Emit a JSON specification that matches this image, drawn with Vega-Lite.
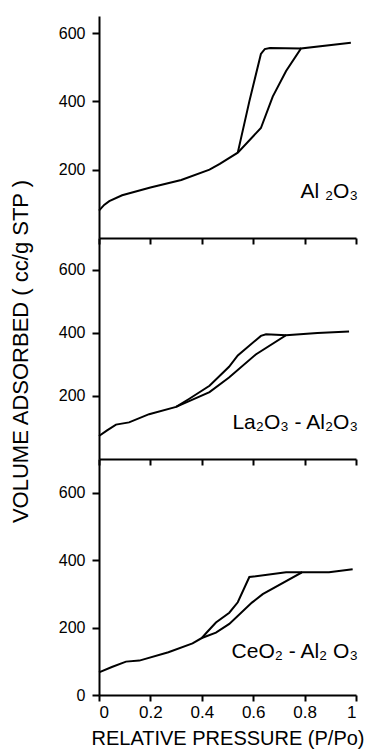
{
  "$schema": "https://vega.github.io/schema/vega-lite/v6.json",
  "background": "white",
  "padding": {"left": 9, "top": 16, "right": 10, "bottom": 5},
  "bounds": "flush",
  "spacing": 0,
  "config": {
    "view": {"stroke": null},
    "font": "Liberation Sans",
    "axis": {
      "domainColor": "black", "domainWidth": 2, "tickColor": "black", "tickWidth": 2,
      "labelColor": "black", "labelFontSize": 16, "labelFont": "Liberation Sans",
      "titleColor": "black", "titleFontWeight": "normal", "titleFont": "Liberation Sans", "titleFontSize": 20,
      "grid": false
    },
    "line": {"color": "black", "strokeWidth": 2}
  },
  "datasets": {
    "al": [
      {"p": 0, "v": 80, "b": "ads"}, {"p": 0.02, "v": 97, "b": "ads"}, {"p": 0.04, "v": 108, "b": "ads"},
      {"p": 0.09, "v": 125, "b": "ads"}, {"p": 0.2, "v": 148, "b": "ads"}, {"p": 0.32, "v": 170, "b": "ads"},
      {"p": 0.43, "v": 200, "b": "ads"}, {"p": 0.47, "v": 217, "b": "ads"}, {"p": 0.54, "v": 250, "b": "ads"},
      {"p": 0.63, "v": 322, "b": "ads"}, {"p": 0.676, "v": 414, "b": "ads"}, {"p": 0.728, "v": 489, "b": "ads"},
      {"p": 0.786, "v": 555, "b": "ads"}, {"p": 0.98, "v": 572, "b": "ads"},
      {"p": 0.54, "v": 250, "b": "des"}, {"p": 0.585, "v": 400, "b": "des"}, {"p": 0.63, "v": 539, "b": "des"},
      {"p": 0.645, "v": 553, "b": "des"}, {"p": 0.665, "v": 556, "b": "des"}, {"p": 0.786, "v": 555, "b": "des"}
    ],
    "la": [
      {"p": 0, "v": 73, "b": "ads"}, {"p": 0.03, "v": 90, "b": "ads"}, {"p": 0.066, "v": 109, "b": "ads"},
      {"p": 0.117, "v": 116, "b": "ads"}, {"p": 0.195, "v": 142, "b": "ads"}, {"p": 0.3, "v": 165, "b": "ads"},
      {"p": 0.43, "v": 212, "b": "ads"}, {"p": 0.506, "v": 258, "b": "ads"}, {"p": 0.61, "v": 331, "b": "ads"},
      {"p": 0.728, "v": 392, "b": "ads"}, {"p": 0.85, "v": 399, "b": "ads"}, {"p": 0.973, "v": 404, "b": "ads"},
      {"p": 0.3, "v": 165, "b": "des"}, {"p": 0.35, "v": 190, "b": "des"}, {"p": 0.43, "v": 232, "b": "des"},
      {"p": 0.506, "v": 292, "b": "des"}, {"p": 0.54, "v": 328, "b": "des"}, {"p": 0.63, "v": 390, "b": "des"},
      {"p": 0.65, "v": 395, "b": "des"}, {"p": 0.728, "v": 392, "b": "des"}
    ],
    "ce": [
      {"p": 0, "v": 67, "b": "ads"}, {"p": 0.05, "v": 83, "b": "ads"}, {"p": 0.105, "v": 99, "b": "ads"},
      {"p": 0.157, "v": 102, "b": "ads"}, {"p": 0.27, "v": 127, "b": "ads"}, {"p": 0.364, "v": 153, "b": "ads"},
      {"p": 0.4, "v": 169, "b": "ads"}, {"p": 0.455, "v": 185, "b": "ads"}, {"p": 0.507, "v": 211, "b": "ads"},
      {"p": 0.595, "v": 274, "b": "ads"}, {"p": 0.637, "v": 299, "b": "ads"}, {"p": 0.79, "v": 364, "b": "ads"},
      {"p": 0.895, "v": 364, "b": "ads"}, {"p": 0.987, "v": 373, "b": "ads"},
      {"p": 0.4, "v": 169, "b": "des"}, {"p": 0.42, "v": 186, "b": "des"}, {"p": 0.455, "v": 215, "b": "des"},
      {"p": 0.507, "v": 244, "b": "des"}, {"p": 0.54, "v": 275, "b": "des"}, {"p": 0.585, "v": 350, "b": "des"},
      {"p": 0.728, "v": 364, "b": "des"}, {"p": 0.79, "v": 364, "b": "des"}
    ],
    "labels": [
      {"panel": "al", "p": 1, "v": 136, "t": "Al ₂O₃"},
      {"panel": "la", "p": 1, "v": 113, "t": "La₂O₃ -  Al₂O₃"},
      {"panel": "ce", "p": 1, "v": 128, "t": "CeO₂ - Al₂ O₃"}
    ]
  },
  "vconcat": [
    {
      "width": 257, "height": 222,
      "layer": [
        {
          "data": {"name": "al"},
          "mark": {"type": "line"},
          "encoding": {
            "x": {"field": "p", "type": "quantitative", "scale": {"domain": [0, 1]},
                  "axis": {"values": [0, 0.2, 0.4, 0.6, 0.8, 1], "labels": false, "title": null, "tickSize": 6}},
            "y": {"field": "v", "type": "quantitative", "scale": {"domain": [0, 617]},
                  "axis": {"values": [200, 400, 600], "title": null, "tickSize": 7, "labelPadding": 7}},
            "detail": {"field": "b"}
          }
        },
        {
          "data": {"name": "labels"},
          "transform": [{"filter": "datum.panel == 'al'"}],
          "mark": {"type": "text", "align": "right", "baseline": "middle", "fontSize": 21, "font": "Liberation Sans", "color": "black", "dx": 2},
          "encoding": {
            "x": {"field": "p", "type": "quantitative"},
            "y": {"field": "v", "type": "quantitative"},
            "text": {"field": "t"}
          }
        }
      ]
    },
    {
      "width": 257, "height": 221,
      "layer": [
        {
          "data": {"name": "la"},
          "mark": {"type": "line"},
          "encoding": {
            "x": {"field": "p", "type": "quantitative", "scale": {"domain": [0, 1]},
                  "axis": {"values": [0, 0.2, 0.4, 0.6, 0.8, 1], "labels": false, "title": null, "tickSize": 6}},
            "y": {"field": "v", "type": "quantitative", "scale": {"domain": [0, 670]},
                  "axis": {"values": [200, 400, 600], "title": "VOLUME ADSORBED ( cc/g STP )", "titleFontSize": 22, "tickSize": 7, "labelPadding": 7, "titlePadding": 26, "titleY": 113}},
            "detail": {"field": "b"}
          }
        },
        {
          "data": {"name": "labels"},
          "transform": [{"filter": "datum.panel == 'la'"}],
          "mark": {"type": "text", "align": "right", "baseline": "middle", "fontSize": 21, "font": "Liberation Sans", "color": "black", "dx": 2},
          "encoding": {
            "x": {"field": "p", "type": "quantitative"},
            "y": {"field": "v", "type": "quantitative"},
            "text": {"field": "t"}
          }
        }
      ]
    },
    {
      "width": 257, "height": 236,
      "layer": [
        {
          "data": {"name": "ce"},
          "mark": {"type": "line"},
          "encoding": {
            "x": {"field": "p", "type": "quantitative", "scale": {"domain": [0, 1]},
                  "axis": {"values": [0, 0.2, 0.4, 0.6, 0.8, 1], "format": "~g", "labelFontSize": 17, "title": "RELATIVE PRESSURE (P/Po)", "tickSize": 6, "labelPadding": 3, "titlePadding": 8}},
            "y": {"field": "v", "type": "quantitative", "scale": {"domain": [0, 656]},
                  "axis": {"values": [0, 200, 400, 600], "title": null, "tickSize": 7, "labelPadding": 7}},
            "detail": {"field": "b"}
          }
        },
        {
          "data": {"name": "labels"},
          "transform": [{"filter": "datum.panel == 'ce'"}],
          "mark": {"type": "text", "align": "right", "baseline": "middle", "fontSize": 21, "font": "Liberation Sans", "color": "black", "dx": 2},
          "encoding": {
            "x": {"field": "p", "type": "quantitative"},
            "y": {"field": "v", "type": "quantitative"},
            "text": {"field": "t"}
          }
        }
      ]
    }
  ]
}
